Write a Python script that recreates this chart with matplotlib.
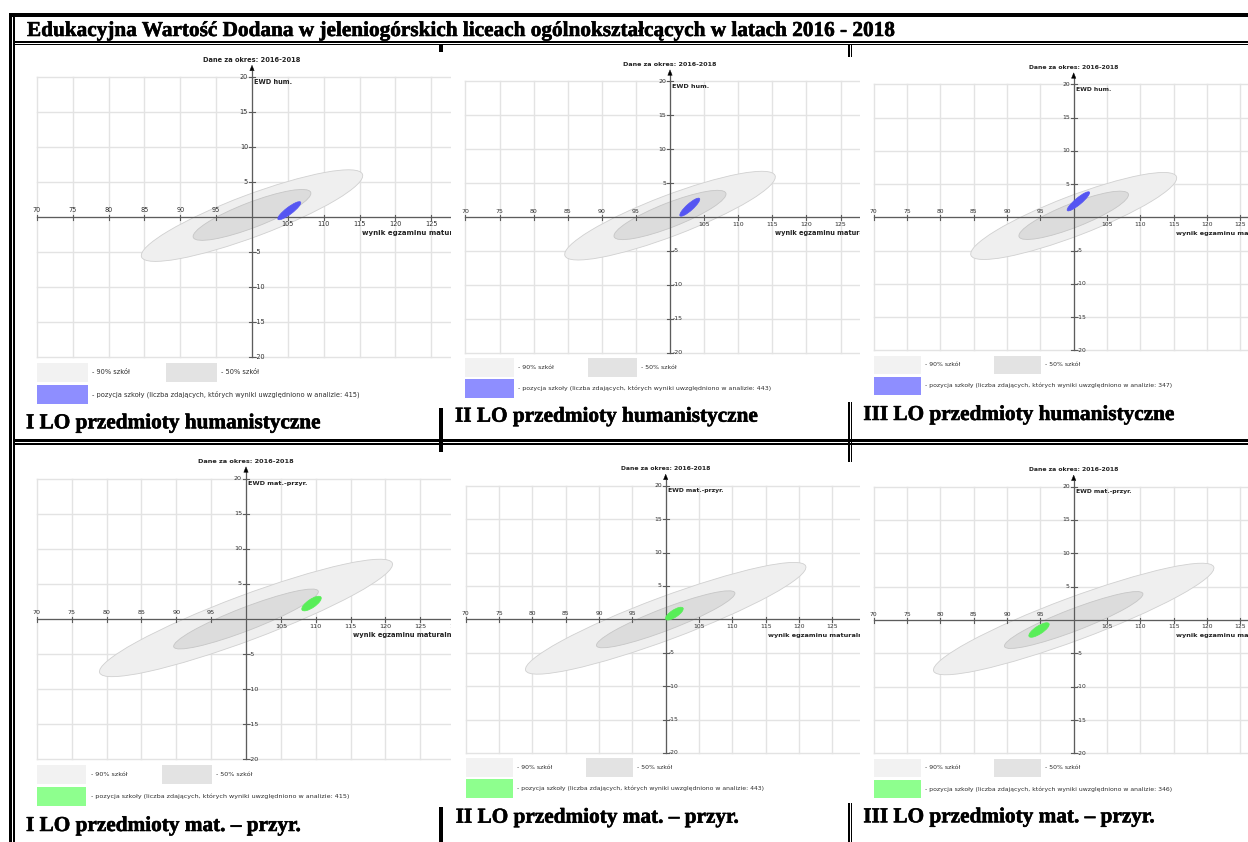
import numpy
import matplotlib
matplotlib.use('Agg')
import matplotlib.pyplot as plt
import matplotlib.patheffects as pe
from matplotlib.patches import Ellipse, Rectangle, Polygon

W, H = 1248, 842

title = 'Edukacyjna Wartość Dodana w jeleniogórskich liceach ogólnokształcących w latach 2016 - 2018'
period = 'Dane za okres: 2016-2018'
x_label = 'wynik egzaminu maturalnego'

schools = ['I LO', 'II LO', 'III LO']
subject_names = ['przedmioty humanistyczne', 'przedmioty mat. – przyr.']
y_labels = ['EWD hum.', 'EWD mat.-przyr.']

# liczba zdajacych uwzglednionych w analizie
students_hum = [415, 443, 347]
students_mat = [415, 443, 346]

# pozycja szkoly: wynik egzaminu, EWD
wynik_hum = [105.2, 102.9, 100.7]
ewd_hum = [0.9, 1.45, 2.4]
wynik_mat = [109.4, 101.3, 94.8]
ewd_mat = [2.2, 0.85, -1.5]

# elipsa szkoly: polos dluga, polos krotka, kat
school_shape_hum = [(2.0, 0.5, 38), (1.92, 0.5, 42), (2.16, 0.5, 40)]
school_shape_mat = [(1.64, 0.6, 34), (1.55, 0.55, 33), (1.78, 0.6, 33)]

# 90% i 50% szkol: srodek x, srodek y, polos dluga, polos krotka, kat
band90_hum = (100, 0.2, 16.5, 3.0, 21)
band50_hum = (100, 0.3, 8.8, 1.8, 21.5)
band90_mat = (100, 0.15, 22.4, 3.2, 20.4)
band50_mat = (100, 0.0, 11.1, 1.65, 21)

x_ticks = [70, 75, 80, 85, 90, 95, 100, 105, 110, 115, 120, 125, 130]
y_ticks = [-20, -15, -10, -5, 0, 5, 10, 15, 20]

# layout in pixels: image box (left, right, top, bottom), pixel of point (100, 0), px per unit
boxes = [[(16, 451, 52, 408), (451, 860, 57, 402), (860, 1248, 57, 402)],
         [(16, 451, 452, 807), (451, 860, 462, 803), (860, 1248, 462, 803)]]
origins = [[(252, 217), (670, 217), (1073.7, 217.3)],
           [(246, 619), (665.7, 619.3), (1073.7, 620)]]
scales = [[(7.17, 7.0), (6.82, 6.78), (6.67, 6.65)],
          [(6.97, 7.02), (6.67, 6.68), (6.67, 6.67)]]
caption_pos = [[(26, 428.3), (455, 421.7), (863.3, 420)],
               [(26, 831), (455.7, 822.7), (863.3, 822.3)]]

axis_color = '#5c5c5c'
text_color = '#2e2e2e'
serif_kw = dict(fontsize=15.3, fontweight='bold', family='Liberation Serif', color='black',
                path_effects=[pe.withStroke(linewidth=0.4, foreground='black')])


def draw_chart(fig, box, origin, scale, bands, center, shape, n, y_label, color, legend_color):
    L, R, T, B = box
    x0, y0 = origin
    sx, sy = scale
    k = sx / 7.17

    ax = fig.add_axes([L / W, 1 - B / H, (R - L) / W, (B - T) / H])
    ax.set_xlim(100 + (L - x0) / sx, 100 + (R - x0) / sx)
    ax.set_ylim((y0 - B) / sy, (y0 - T) / sy)
    ax.set_xticks([])
    ax.set_yticks([])
    for sp in ax.spines.values():
        sp.set_visible(False)

    # grid
    for xt in x_ticks:
        ax.plot([xt, xt], [-20, 20], color='#e3e3e3', lw=1.0, zorder=1)
    for yt in y_ticks:
        ax.plot([70, 132], [yt, yt], color='#e3e3e3', lw=1.0, zorder=1)

    # 90% and 50% of schools
    b90, b50 = bands
    ax.add_patch(Ellipse((b90[0], b90[1]), 2 * b90[2], 2 * b90[3], angle=b90[4],
                         facecolor='#efefef', edgecolor='#d0d0d0', lw=0.6, zorder=2))
    ax.add_patch(Ellipse((b50[0], b50[1]), 2 * b50[2], 2 * b50[3], angle=b50[4],
                         facecolor='#dcdcdc', edgecolor='#c6c6c6', lw=0.6, zorder=3))

    # axes
    ax.plot([70, 132], [0, 0], color=axis_color, lw=0.9, zorder=4)
    ax.plot([100, 100], [-20, 20.9], color=axis_color, lw=0.9, zorder=4)
    ax.add_patch(Polygon([[100 - 2.2 / sx, 20.9], [100 + 2.2 / sx, 20.9], [100, 20.9 + 5.5 / sy]],
                         closed=True, facecolor='black', edgecolor='black', lw=0.3, zorder=5))

    fs = 4.7 * k
    for xt in x_ticks:
        if xt == 100:
            continue
        ax.plot([xt, xt], [-2.5 / sy, 2.5 / sy], color=axis_color, lw=0.8, zorder=4)
        if xt < 100:
            ax.text(xt, 3.5 / sy, str(xt), ha='center', va='bottom', fontsize=fs,
                    color=text_color, clip_on=True)
        else:
            ax.text(xt, -4.5 / sy, str(xt), ha='center', va='top', fontsize=fs,
                    color=text_color, clip_on=True)
    for yt in y_ticks:
        if yt == 0:
            continue
        ax.plot([100 - 3 / sx, 100 + 3 / sx], [yt, yt], color=axis_color, lw=0.8, zorder=4)
        if yt > 0:
            ax.text(100 - 4 / sx, yt, str(yt), ha='right', va='center', fontsize=fs,
                    color=text_color, clip_on=True)
        else:
            ax.text(100 + 3 / sx, yt, str(yt), ha='left', va='center', fontsize=fs,
                    color=text_color, clip_on=True)

    ax.text(100 + 2.5 / sx, 20 - 4.7 / sy, y_label, ha='left', va='center', fontsize=4.8 * k,
            fontweight='bold', color='#222222', clip_on=True)
    ax.text(100, 20 + 17 / sy, period, ha='center', va='center', fontsize=4.8 * k,
            fontweight='bold', color='#222222', clip_on=True)
    ax.text(115.4, -16 / sy, x_label, ha='left', va='center', fontsize=5.0 * k,
            fontweight='bold', color='#222222', clip_on=True)

    # school position
    a, b, ang = shape
    ax.add_patch(Ellipse(center, 2 * a, 2 * b, angle=ang, facecolor=color,
                         edgecolor=color, lw=0.5, zorder=6))

    # legend
    ax.add_patch(Rectangle((70, -23.55), 7.1, 2.75, facecolor='#f2f2f2', edgecolor='none', zorder=2))
    ax.add_patch(Rectangle((88, -23.55), 7.1, 2.75, facecolor='#e3e3e3', edgecolor='none', zorder=2))
    ax.add_patch(Rectangle((70, -26.7), 7.1, 2.75, facecolor=legend_color, edgecolor='none', zorder=2))
    fl = 4.75 * k
    ax.text(77.7, -22.15, '- 90% szkół', ha='left', va='center', fontsize=fl, color=text_color, clip_on=True)
    ax.text(95.7, -22.15, '- 50% szkół', ha='left', va='center', fontsize=fl, color=text_color, clip_on=True)
    ax.text(77.7, -25.3, '- pozycja szkoły (liczba zdających, których wyniki uwzględniono w analizie: %d)' % n,
            ha='left', va='center', fontsize=fl, color=text_color, clip_on=True)
    return ax


fig = plt.figure(figsize=(W / 100, H / 100), dpi=100)
fig.patch.set_facecolor('white')

# table borders, drawn below the chart images
bg = fig.add_axes([0, 0, 1, 1], zorder=-1)
bg.set_xlim(0, W)
bg.set_ylim(H, 0)
bg.axis('off')


def bar(x1, x2, y1, y2):
    bg.add_patch(Rectangle((x1, y1), x2 - x1, y2 - y1, facecolor='black', edgecolor='none'))


bar(9.3, W, 13.3, 16.7)       # top
bar(9.3, 12.3, 13.3, H)       # left, outer
bar(13.3, 15, 16.7, H)        # left, inner
bar(13.3, W, 40.7, 42.7)      # under title
bar(13.3, W, 43.7, 45.3)
bar(13.3, W, 439.3, 442)      # between rows
bar(13.3, W, 443.3, 445)
bar(439.3, 442.7, 45, H)      # column 1 | 2
bar(847.7, 850, 45, H)        # column 2 | 3
bar(850.7, 852.3, 45, H)

bands = [(band90_hum, band50_hum), (band90_mat, band50_mat)]
centers = [list(zip(wynik_hum, ewd_hum)), list(zip(wynik_mat, ewd_mat))]
shapes = [school_shape_hum, school_shape_mat]
students = [students_hum, students_mat]
colors = [('#5555f2', '#8e8eff'), ('#58ee58', '#8eff8e')]

for r in range(2):
    for c in range(3):
        draw_chart(fig, boxes[r][c], origins[r][c], scales[r][c], bands[r], centers[r][c],
                   shapes[r][c], students[r][c], y_labels[r], colors[r][0], colors[r][1])
        cx, cy = caption_pos[r][c]
        fig.text(cx / W, 1 - cy / H, schools[c] + ' ' + subject_names[r], ha='left', va='baseline',
                 **serif_kw)

fig.text(27 / W, 1 - 36 / H, title, ha='left', va='baseline', **serif_kw)

fig.savefig('out.png', dpi=100)
